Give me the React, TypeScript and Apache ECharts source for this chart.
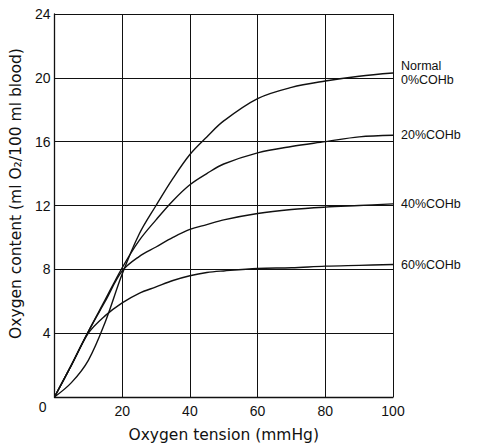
import React, { useEffect, useRef } from "react";
import * as echarts from "echarts";

// Oxygen tension (mmHg) sample points shared by all curves
const oxygenTension = [0, 5, 10, 15, 20, 25, 30, 35, 40, 45, 50, 60, 70, 80, 90, 100];

// Oxygen content (ml O2 / 100 ml blood)
const normal0COHb = [0, 0.9, 2.3, 4.7, 7.7, 10.2, 12.0, 13.7, 15.2, 16.3, 17.3, 18.7, 19.4, 19.8, 20.1, 20.3];
const cohb20 = [0, 2.0, 4.1, 6.1, 8.1, 9.8, 11.1, 12.3, 13.3, 14.0, 14.6, 15.3, 15.7, 16.0, 16.3, 16.4];
const cohb40 = [0, 2.0, 4.1, 6.0, 7.9, 8.8, 9.4, 10.0, 10.5, 10.8, 11.1, 11.5, 11.75, 11.9, 12.0, 12.1];
const cohb60 = [0, 2.0, 4.0, 5.1, 5.9, 6.5, 6.9, 7.3, 7.6, 7.8, 7.9, 8.05, 8.1, 8.2, 8.25, 8.3];

const curveNames = ["Normal\n0%COHb", "20%COHb", "40%COHb", "60%COHb"];
const curveValues = [normal0COHb, cohb20, cohb40, cohb60];

// Axis ranges / tick steps
const xMin = 0, xMax = 100, xStep = 20;
const yMin = 0, yMax = 24, yStep = 4;

const INK = "#111";
const TICK_FONT = "'Liberation Sans', Arial, sans-serif";
const TITLE_FONT = "'DejaVu Sans', sans-serif";
const LABEL_FONT = "'Liberation Sans', Arial, sans-serif";

export default function App() {
  const ref = useRef<HTMLDivElement>(null);

  useEffect(() => {
    if (!ref.current) return;
    const chart = echarts.init(ref.current, null, { renderer: "svg" });
    chart.setOption({
      animation: false,
      backgroundColor: "#fff",
      grid: { left: 52, right: 93, top: 14, bottom: 50, containLabel: false },
      xAxis: {
        type: "value",
        min: xMin,
        max: xMax,
        interval: xStep,
        axisLine: { show: true, lineStyle: { color: INK, width: 1.3 } },
        axisTick: { show: false },
        splitLine: { show: true, lineStyle: { color: INK, width: 1 } },
        axisLabel: {
          color: INK,
          fontSize: 14,
          fontFamily: TICK_FONT,
          margin: 7,
          showMinLabel: false,
          formatter: (v: number) => (v === 0 ? "" : String(v)),
        },
        name: "Oxygen tension (mmHg)",
        nameLocation: "middle",
        nameGap: 30,
        nameTextStyle: { color: INK, fontSize: 15.5, fontFamily: TITLE_FONT },
      },
      yAxis: {
        type: "value",
        min: yMin,
        max: yMax,
        interval: yStep,
        axisLine: { show: true, lineStyle: { color: INK, width: 1.3 } },
        axisTick: { show: false },
        splitLine: { show: true, lineStyle: { color: INK, width: 1 } },
        axisLabel: {
          color: INK,
          fontSize: 14,
          fontFamily: TICK_FONT,
          margin: 4,
          formatter: (v: number) => (v === 0 ? "{z|0}" : String(v)),
          rich: {
            z: { color: INK, fontSize: 14, fontFamily: TICK_FONT, padding: [20, 4, 0, 0] },
          },
        },
        name: "Oxygen content (ml O₂/100 ml blood)",
        nameLocation: "middle",
        nameGap: 27,
        nameTextStyle: { color: INK, fontSize: 15.5, fontFamily: TITLE_FONT, padding: [0, 0, 0, 24] },
      },
      series: curveNames.map((name, i) => ({
        type: "line",
        name,
        data: oxygenTension.map((x, j) => [x, curveValues[i][j]]),
        smooth: 0.35,
        symbol: "none",
        lineStyle: { color: INK, width: 1.4 },
        endLabel: {
          show: true,
          formatter: name,
          color: INK,
          fontSize: 12.5,
          lineHeight: 14,
          fontFamily: LABEL_FONT,
          distance: 8,
        },
      })),
    });
    return () => chart.dispose();
  }, []);

  return (
    <div
      ref={ref}
      style={{ position: "fixed", left: 0, top: 0, width: 486, height: 448, background: "#fff" }}
    />
  );
}
